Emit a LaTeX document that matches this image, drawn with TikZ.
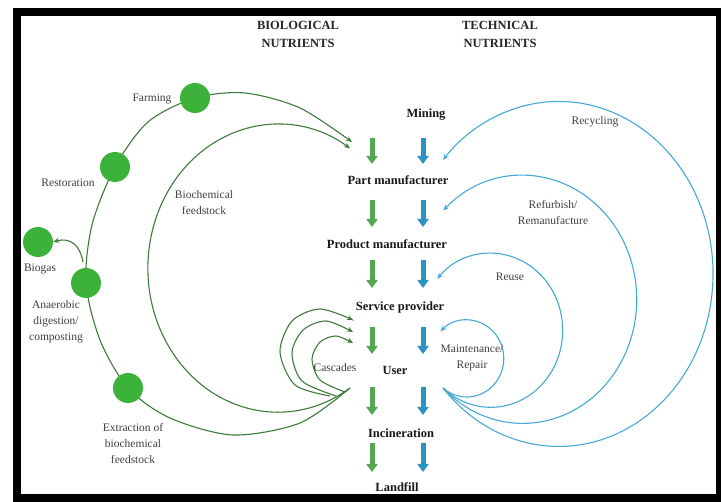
\documentclass[tikz,border=0pt]{standalone}
\usepackage{fontspec}
\setmainfont{Liberation Serif}
\usetikzlibrary{arrows.meta}
\definecolor{gcirc}{HTML}{3DB23A}
\definecolor{glinec}{HTML}{3F7A3A}
\definecolor{blinec}{HTML}{45A9D6}
\definecolor{garr}{HTML}{56A653}
\definecolor{barr}{HTML}{2A93C6}
\begin{document}
\begin{tikzpicture}[x=1pt,y=-1pt,
  head/.style={font=\bfseries\fontsize{12.5}{18}\selectfont, align=center, text=black!85},
  stage/.style={font=\bfseries\fontsize{12.5}{14}\selectfont, text=black!90},
  lab/.style={font=\fontsize{11.5}{16}\selectfont, align=center, text=black!75},
  circ/.style={circle, fill=gcirc, minimum size=30pt, inner sep=0pt},
  gl/.style={draw=glinec, line width=1.1pt, -{Stealth[length=6pt,width=5pt]}},
  bl/.style={draw=blinec, line width=1.1pt, -{Stealth[length=6pt,width=5pt]}},
  garrow/.style={draw=garr, line width=5pt, -{Triangle[width=11pt,length=8pt]}},
  barrow/.style={draw=barr, line width=5pt, -{Triangle[width=11pt,length=8pt]}}]
\useasboundingbox (0,0) rectangle (721,502);
\fill[black] (13,8) rectangle (721,502);
\fill[white] (21,16) rectangle (716,494);

% headings
\node[head] (bio) at (298,34) {BIOLOGICAL\\NUTRIENTS};
\node[head] (tech) at (500,34) {TECHNICAL\\NUTRIENTS};

% stages
\node[stage] (mining) at (426,115) {Mining};
\node[stage] (part) at (398,180) {Part manufacturer};
\node[stage] (product) at (387,244) {Product manufacturer};
\node[stage] (service) at (400,307) {Service provider};
\node[stage] (user) at (395,370) {User};
\node[stage] (incin) at (401,433) {Incineration};
\node[stage] (landfill) at (397,487) {Landfill};

% block arrows
\foreach \ya/\yb in {138/164, 200/227, 260/288, 327/354, 387/415, 443/472}{
  \draw[garrow] (372,\ya) -- (372,\yb);
  \draw[barrow] (423,\ya) -- (423,\yb);
}

% coordinates
\coordinate (gs) at (350,388);
\coordinate (ge1) at (352,142);
\coordinate (gc1s) at (330,396);
\coordinate (gc2s) at (336,396);
\coordinate (gc3s) at (345,392);
\coordinate (gc1) at (353,320);
\coordinate (gc2) at (353,332);
\coordinate (gc3) at (353,343);
\coordinate (bs) at (443,388);
\coordinate (bgs) at (83,262);

% green curves
\draw[gl] plot[smooth] coordinates {(gs) (300,423) (233,435) (170,418) (128,388) (100,340) (86,283) (92,225) (115,167) (148,122) (195,98) (245,93) (300,108) (ge1)};
\draw[gl] (gs) arc[start angle=56.3, end angle=303.7, x radius=130, y radius=144];
\draw[gl] plot[smooth] coordinates {(gc1s) (295,385) (280,352) (292,321) (320,309) (gc1)};
\draw[gl] plot[smooth] coordinates {(gc2s) (302,381) (292,353) (303,330) (326,321) (gc2)};
\draw[gl] plot[smooth] coordinates {(gc3s) (320,380) (312,359) (320,342) (336,336) (gc3)};

% green circles
\node[circ] (farm) at (195,98) {};
\node[circ] (resto) at (115,167) {};
\node[circ] (biogas) at (38,242) {};
\node[circ] (anaer) at (86,283) {};
\node[circ] (extr) at (128,388) {};
\draw[gl] (bgs) .. controls (80,245) and (70,237) .. (biogas.east);

% blue curves
\draw[bl] (bs) arc[start angle=138.6, end angle=-138.6, x radius=154.3, y radius=172.5];
\draw[bl] (bs) arc[start angle=134.4, end angle=-134.2, x radius=114, y radius=124];
\draw[bl] (bs) arc[start angle=131.5, end angle=-138, x radius=72, y radius=77];
\draw[bl] (bs) arc[start angle=130, end angle=-135, x radius=37, y radius=38.5];

% labels
\node[lab] (lfarm) at (152,99) {Farming};
\node[lab] (lresto) at (68,183) {Restoration};
\node[lab] (lbiogas) at (40,269) {Biogas};
\node[lab] (lanaer) at (56,322) {Anaerobic\\digestion/\\composting};
\node[lab] (lextr) at (133,444) {Extraction of\\biochemical\\feedstock};
\node[lab] (lbiof) at (204,203) {Biochemical\\feedstock};
\node[lab] (lcasc) at (335,368) {Cascades};
\node[lab] (lrecy) at (595,122) {Recycling};
\node[lab] (lrefurb) at (553,213) {Refurbish/\\Remanufacture};
\node[lab] (lreuse) at (510,277) {Reuse};
\node[lab] (lmaint) at (472,358) {Maintenance/\\Repair};
\end{tikzpicture}
\end{document}
